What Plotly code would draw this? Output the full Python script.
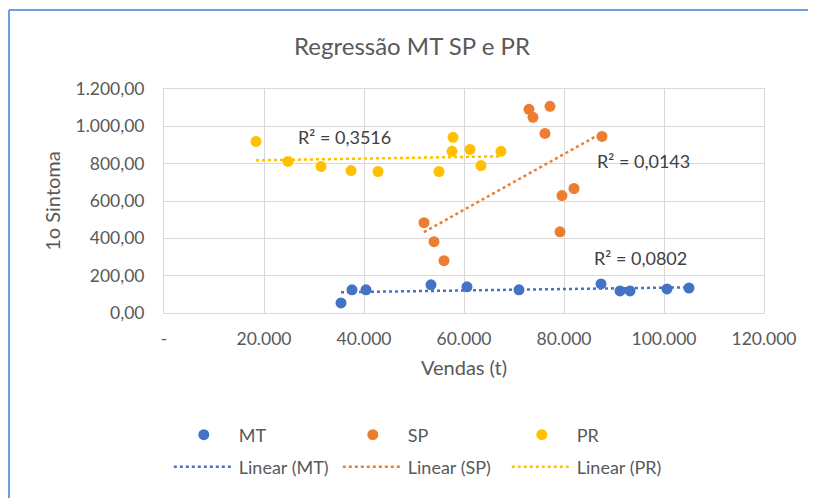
import numpy as np
import plotly.graph_objects as go

# Vendas (t) x 1o Sintoma
mt_x = [35400, 37600, 40400, 53400, 60600, 71000, 87400, 91200, 93200, 100600, 105000]
mt_y = [54, 124, 124, 151, 140, 124, 156, 118, 118, 129, 134]
sp_x = [52000, 54000, 56000, 73000, 73800, 77200, 76200, 87600, 79600, 82000, 79200]
sp_y = [484, 382, 280, 1091, 1048, 1107, 962, 946, 629, 667, 435]
pr_x = [18400, 24800, 31400, 37400, 42800, 55000, 57800, 57600, 61200, 63400, 67400]
pr_y = [919, 812, 785, 763, 758, 758, 941, 866, 876, 790, 866]

series = [("MT", mt_x, mt_y, "#4472C4"),
          ("SP", sp_x, sp_y, "#ED7D31"),
          ("PR", pr_x, pr_y, "#FFC000")]

r2_labels = ["R² = 0,0802", "R² = 0,0143", "R² = 0,3516"]
r2_pos = [(95200, 296), (95800, 812), (36000, 941)]

x_ticks = [0, 20000, 40000, 60000, 80000, 100000, 120000]
x_ticktext = ["-", "20.000", "40.000", "60.000", "80.000", "100.000", "120.000"]
y_ticks = [0, 200, 400, 600, 800, 1000, 1200]

FONT = "Lato"
GRAY = "#595959"

fig = go.Figure()

for name, xs, ys, color in series:
    fig.add_trace(go.Scatter(x=xs, y=ys, mode="markers", name=name,
                             marker=dict(color=color, size=11), legend="legend"))

for name, xs, ys, color in series:
    # excel style linear trendline over the data range
    a, b = np.polyfit(xs, ys, 1)
    lx = np.array([min(xs), max(xs)])
    fig.add_trace(go.Scatter(x=lx, y=a * lx + b, mode="lines", name="Linear (%s)" % name,
                             line=dict(color=color, width=2.5, dash="dot"),
                             legend="legend2"))

for txt, (ax, ay) in zip(r2_labels, r2_pos):
    fig.add_annotation(x=ax, y=ay, text=txt, showarrow=False,
                       font=dict(family=FONT, size=18, color="#404040"))

# chart frame (blue selection border), only top and left edges are visible
fig.add_shape(type="line", xref="paper", yref="paper",
              x0=-0.2583, x1=1.2, y0=1.3527, y1=1.3527,
              line=dict(color="#6a9fdc", width=2), layer="below")
fig.add_shape(type="line", xref="paper", yref="paper",
              x0=-0.2583, x1=-0.2583, y0=-1.0, y1=1.3527,
              line=dict(color="#6a9fdc", width=2), layer="below")

legend_style = dict(orientation="h", x=0.008, xanchor="left", yanchor="middle",
                    itemwidth=60, entrywidth=94, entrywidthmode="pixels",
                    font=dict(size=18, color=GRAY))

fig.update_layout(
    # page body adds an 8px margin, so the figure is drawn 8px smaller
    width=808, height=490,
    margin={'l': 156, 'r': 52, 't': 81, 'b': 185},
    paper_bgcolor="white", plot_bgcolor="white",
    separators=",.",
    font=dict(family=FONT, size=17.5, color=GRAY),
    title=dict(text="Regressão MT SP e PR", x=0.5, xref="container",
               y=0.922, yref="container", yanchor="middle",
               font=dict(family=FONT, size=24, color=GRAY)),
    legend=dict(legend_style, y=-0.5446),
    legend2=dict(legend_style, y=-0.6875),
    showlegend=True,
)

fig.update_xaxes(range=[0, 120000], tickvals=x_ticks, ticktext=x_ticktext,
                 showgrid=True, gridcolor="#d9d9d9", zeroline=False,
                 showline=True, linecolor="#d9d9d9", mirror=True,
                 ticks="outside", ticklen=10, tickcolor="rgba(0,0,0,0)",
                 tickfont=dict(size=17.5, color=GRAY),
                 title=dict(text="Vendas (t)", font=dict(size=20, color=GRAY), standoff=12))
fig.update_yaxes(range=[0, 1200], tickvals=y_ticks, tickformat=",.2f",
                 showgrid=True, gridcolor="#d9d9d9", zeroline=False,
                 showline=True, linecolor="#d9d9d9", mirror=True,
                 ticks="outside", ticklen=15, tickcolor="rgba(0,0,0,0)",
                 tickfont=dict(size=17.5, color=GRAY),
                 title=dict(text="1o Sintoma", font=dict(size=20, color=GRAY), standoff=9))

fig.write_html("out.html")
